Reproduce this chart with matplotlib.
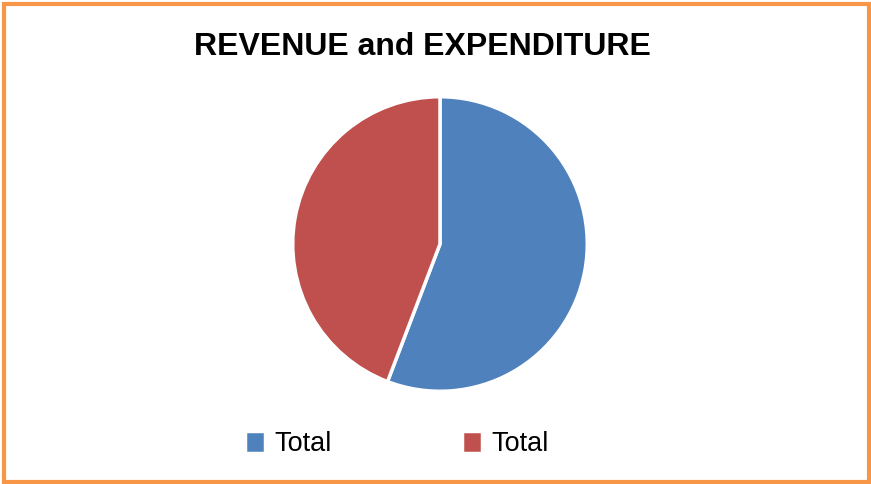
import matplotlib.pyplot as plt
from matplotlib.patches import Rectangle

# Revenue vs expenditure shares (both series are labelled "Total" in the source)
labels = ["Total", "Total"]
shares = [55.8, 44.2]
colors = ["#4F81BD", "#C0504D"]

W, H = 871, 484
plt.rcParams["font.family"] = ["Liberation Sans", "DejaVu Sans"]

fig = plt.figure(figsize=(W / 100, H / 100), dpi=100)
fig.patch.set_facecolor("white")

# pie axes: centre (440, 244) px, radius 148 px
cx, cy, r = 440, 244, 148
ax = fig.add_axes([(cx - r) / W, 1 - (cy + r) / H, 2 * r / W, 2 * r / H])
wedges, _ = ax.pie(shares, colors=colors, startangle=90, counterclock=False,
                   wedgeprops=dict(edgecolor="white", linewidth=2.5))
ax.set_xlim(-1.005, 1.005)
ax.set_ylim(-1.005, 1.005)
ax.set_aspect("equal")
ax.axis("off")

fig.text(422 / W, 1 - 47 / H, "REVENUE and EXPENDITURE", ha="center", va="center",
         fontsize=23, fontweight="bold", color="black")

fig.legend(wedges, labels, ncol=2, loc="center", bbox_to_anchor=(397 / W, 1 - 444 / H),
           frameon=False, fontsize=19.5, handlelength=0.75, handleheight=0.85,
           handletextpad=0.35, columnspacing=4.8)

# orange chart-area border
fig.patches.append(Rectangle((4 / W, 2 / H), (W - 6) / W, (H - 6) / H, transform=fig.transFigure,
                             fill=False, edgecolor="#F79646", linewidth=3))

fig.savefig("out.png", dpi=100)
